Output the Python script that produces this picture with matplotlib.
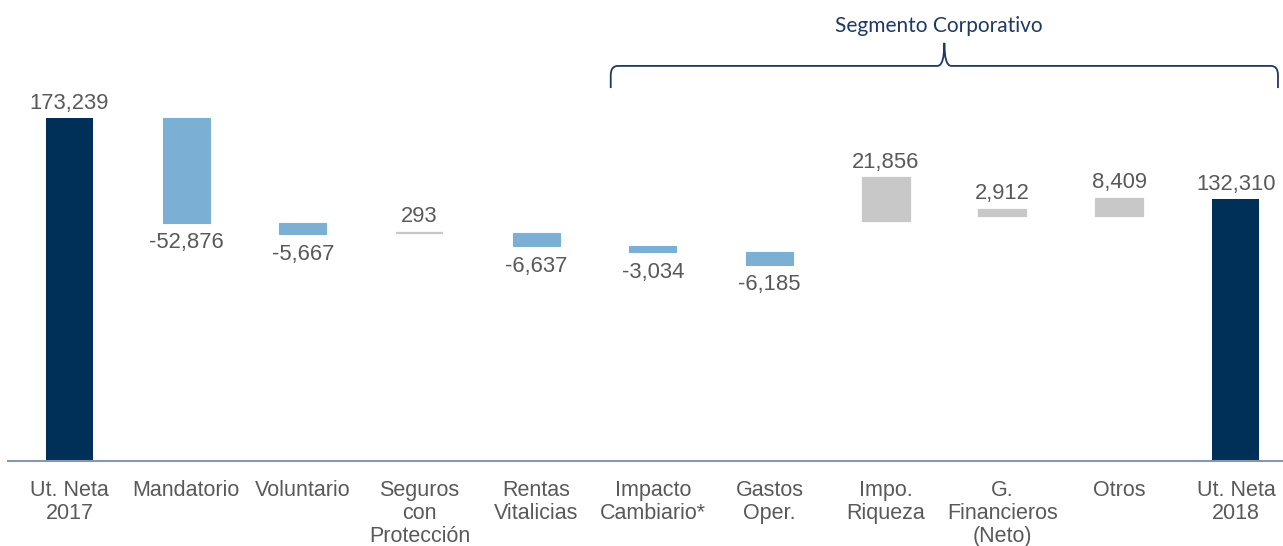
import matplotlib
matplotlib.use("Agg")
import matplotlib.pyplot as plt
from matplotlib.path import Path
from matplotlib.patches import PathPatch
import matplotlib.transforms as mtransforms

categories = ["Ut. Neta\n2017", "Mandatorio", "Voluntario", "Seguros\ncon\nProtección",
              "Rentas\nVitalicias", "Impacto\nCambiario*", "Gastos\nOper.", "Impo.\nRiqueza",
              "G.\nFinancieros\n(Neto)", "Otros", "Ut. Neta\n2018"]
start_value = 173239
changes = [-52876, -5667, 293, -6637, -3034, -6185, 21856, 2912, 8409]
end_value = 132310
# invisible base series of the original waterfall
base_values = [120363, 114696, 114989, 108352, 105318, 99133, 120989, 123901, 123901]
bracket_label = "Segmento Corporativo"

NAVY = "#003057"
BLUE = "#7BAFD4"
GREY = "#C8C8C8"
TXT = "#595959"
BRACE = "#1F3864"

plt.rcParams['font.family'] = ['Liberation Sans', 'DejaVu Sans']

fig = plt.figure(figsize=(12.83, 5.46), dpi=100)
ax = fig.add_axes([8 / 1283, 0.1557, 1 - 8 / 1283, 0.8443])

width = 0.403
VAL_FS = 15.8
# start bar
ax.bar(0, start_value, width=width, color=NAVY)
ax.annotate(f"{start_value:,}", (0, start_value), xytext=(0, 3), textcoords="offset points",
            ha="center", va="bottom", fontsize=VAL_FS, color=TXT)
for i, (c, b) in enumerate(zip(changes, base_values), start=1):
    color = BLUE if c < 0 else GREY
    lw = 0.8 if c < 0 else 1.6
    ax.bar(i, abs(c), bottom=b, width=width, color=color, edgecolor=color, linewidth=lw)
    label = f"{c:,}"
    if c < 0:
        ax.annotate(label, (i, b), xytext=(0, -7), textcoords="offset points",
                    ha="center", va="top", fontsize=VAL_FS, color=TXT)
    else:
        ax.annotate(label, (i, b + abs(c)), xytext=(0, 4), textcoords="offset points",
                    ha="center", va="bottom", fontsize=VAL_FS, color=TXT)
n = len(categories) - 1
ax.bar(n, end_value, width=width, color=NAVY)
ax.annotate(f"{end_value:,}", (n, end_value), xytext=(0, 3), textcoords="offset points",
            ha="center", va="bottom", fontsize=VAL_FS, color=TXT)

ax.set_xlim(-0.527, 10.403)
ax.set_ylim(0, 232833)
for s in ["top", "left", "right"]:
    ax.spines[s].set_visible(False)
ax.spines["bottom"].set_color("#8497B0")
ax.spines["bottom"].set_linewidth(1.5)
ax.set_yticks([])
ax.set_xticks(range(len(categories)))
ax.set_xticklabels(categories, fontsize=15.5, color=TXT, linespacing=1.1)
ax.tick_params(axis="x", length=0, pad=14)
ax.patch.set_alpha(0)

# brace (x in data coords, y in axes fraction)
trans = mtransforms.blended_transform_factory(ax.transData, ax.transAxes)
x0, x1 = 4.64, 10.36
xm = (x0 + x1) / 2
ytop, ybot, ytip = 0.857, 0.809, 0.907
r = 0.06
ry = 0.02
verts = [
    (x0, ybot), (x0, ytop - ry), (x0, ytop), (x0 + r, ytop),
    (xm - r, ytop), (xm, ytop), (xm, ytip),
    (xm, ytop), (xm + r, ytop),
    (x1 - r, ytop), (x1, ytop), (x1, ytop - ry), (x1, ybot),
]
codes = [Path.MOVETO, Path.LINETO, Path.CURVE3, Path.CURVE3,
         Path.LINETO, Path.CURVE3, Path.CURVE3,
         Path.CURVE3, Path.CURVE3,
         Path.LINETO, Path.CURVE3, Path.CURVE3, Path.LINETO]
patch = PathPatch(Path(verts, codes), transform=trans, fill=False, edgecolor=BRACE,
                  linewidth=1.3, clip_on=False)
ax.add_patch(patch)
ax.text(xm - 0.05, 0.944, bracket_label, transform=trans, ha="center", va="center",
        fontsize=15, color=BRACE, family=["Lato", "DejaVu Sans"])

fig.savefig("out.png", dpi=100)
